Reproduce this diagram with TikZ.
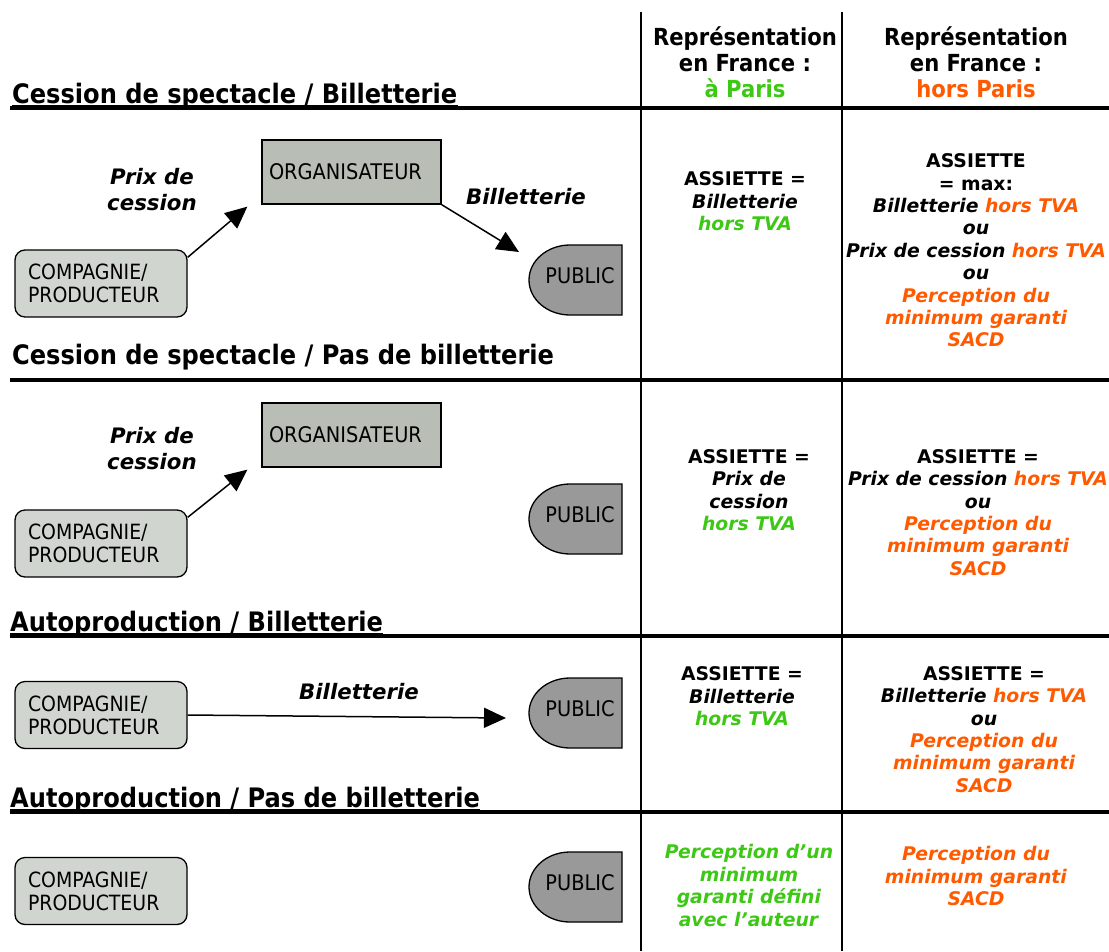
\documentclass[tikz,border=0pt]{standalone}
\usepackage{fontspec}
\setmainfont{DejaVu Sans}
\newfontfamily\cond{DejaVu Sans Condensed}
\usetikzlibrary{arrows.meta,calc}
\definecolor{vert}{RGB}{60,200,20}
\definecolor{orng}{RGB}{255,90,0}
\definecolor{orgfill}{RGB}{184,189,181}
\definecolor{compfill}{RGB}{208,213,207}
\definecolor{pubfill}{RGB}{153,153,153}
\begin{document}
\begin{tikzpicture}[x=1pt,y=-1pt,
  sepline/.style={line width=3.5pt},
  vline/.style={line width=1.5pt},
  uline/.style={line width=2pt},
  title/.style={anchor=base west,inner sep=0pt,font=\cond\bfseries\fontsize{26.8}{30}\selectfont},
  head/.style={align=center,inner sep=0pt,font=\cond\bfseries\fontsize{23.5}{26}\selectfont},
  cell/.style={align=center,inner sep=0pt,font=\bfseries\fontsize{18.8}{22.4}\selectfont},
  lbl/.style={align=center,inner sep=0pt,font=\bfseries\itshape\fontsize{21.3}{26}\selectfont},
  orgbox/.style={draw,line width=1.3pt,fill=orgfill,text width=165pt,inner xsep=7pt,inner ysep=0pt,minimum height=64pt,align=left,font=\cond\fontsize{21.5}{24}\selectfont},
  compbox/.style={draw,line width=1.3pt,fill=compfill,rounded corners=10pt,text width=146pt,inner xsep=13pt,inner ysep=0pt,minimum height=67pt,align=left,font=\cond\fontsize{21}{23}\selectfont},
  pubshape/.style={draw,line width=1.3pt,fill=pubfill},
  pubtext/.style={inner sep=0pt,font=\cond\fontsize{21.5}{24}\selectfont},
  arr/.style={line width=1.5pt,-{Triangle[length=22pt,width=20pt]}}
]
\useasboundingbox (0,0) rectangle (1109,951);

% grid lines
\draw[vline] (641,12) -- (641,951);
\draw[vline] (842,12) -- (842,951);
\draw[sepline] (10,108) -- (1109,108);
\draw[sepline] (10,380) -- (1109,380);
\draw[sepline] (10,636) -- (1109,636);
\draw[sepline] (10,812) -- (1109,812);

% titles
\node[title] (t1) at (12,103) {Cession de spectacle / Billetterie};
\node[title] (t2) at (12,364) {Cession de spectacle / Pas de billetterie};
\node[title] (t3) at (10,631) {Autoproduction / Billetterie};
\node[title] (t4) at (10,807) {Autoproduction / Pas de billetterie};
\foreach \t in {t1,t3,t4}{\draw[uline] ([yshift=-3pt]\t.base west) -- ([yshift=-3pt]\t.base east);}

% headers
\node[head] (h1) at (745,62) {Représentation\\en France :\\\textcolor{vert}{à Paris}};
\node[head] (h2) at (976,62) {Représentation\\en France :\\\textcolor{orng}{hors Paris}};

% public shapes
\foreach \n/\a/\b in {p1/245/315, p2/484/554, p3/678/748, p4/852/922}{
  \draw[pubshape] (622,\a) -- (570,\a) arc[start angle=90,end angle=270,x radius=41pt,y radius=35pt] -- (622,\b) -- cycle;
  \node[pubtext] (\n) at (580,{(\a+\b)/2-4}) {PUBLIC};
}

% section 1
\node[orgbox] (o1) at (351.5,172) {ORGANISATEUR};
\node[compbox] (c1) at (101,283.5) {COMPAGNIE/\\PRODUCTEUR};
\node[lbl] (l1) at (152,190) {Prix de\\cession};
\node[lbl] (l2) at (526,197) {Billetterie};
\coordinate (o1in) at ([xshift=-14pt,yshift=-2pt]o1.south west);
\coordinate (p1in) at (519,252);
\draw[arr] ([yshift=-8pt]c1.north east) -- (o1in);
\draw[arr] (o1.south east) -- (p1in);

% section 2
\node[orgbox] (o2) at (351.5,435) {ORGANISATEUR};
\node[compbox] (c2) at (101,543.5) {COMPAGNIE/\\PRODUCTEUR};
\node[lbl] (l3) at (152,449) {Prix de\\cession};
\coordinate (o2in) at ([xshift=-14pt,yshift=-2pt]o2.south west);
\draw[arr] ([yshift=-8pt]c2.north east) -- (o2in);

% section 3
\node[compbox] (c3) at (101,715) {COMPAGNIE/\\PRODUCTEUR};
\node[lbl] (l4) at (359,692) {Billetterie};
\coordinate (p3in) at (506,718);
\draw[arr] (c3.east) -- (p3in);

% section 4
\node[compbox] (c4) at (101,891) {COMPAGNIE/\\PRODUCTEUR};

% cells
\node[cell] (a1) at (745,201.5) {ASSIETTE =\\\textit{Billetterie}\\\textit{\textcolor{vert}{hors TVA}}};
\node[cell] (b1) at (976,250.5) {ASSIETTE\\= max:\\\textit{Billetterie \textcolor{orng}{hors TVA}}\\\textit{ou}\\\textit{Prix de cession \textcolor{orng}{hors TVA}}\\\textit{ou}\\\textit{\textcolor{orng}{Perception du}}\\\textit{\textcolor{orng}{minimum garanti}}\\\textit{\textcolor{orng}{SACD}}};
\node[cell] (a2) at (749,490) {ASSIETTE =\\\textit{Prix de}\\\textit{cession}\\\textit{\textcolor{vert}{hors TVA}}};
\node[cell] (b2) at (978,512.5) {ASSIETTE =\\\textit{Prix de cession \textcolor{orng}{hors TVA}}\\\textit{ou}\\\textit{\textcolor{orng}{Perception du}}\\\textit{\textcolor{orng}{minimum garanti}}\\\textit{\textcolor{orng}{SACD}}};
\node[cell] (a3) at (742,696.5) {ASSIETTE =\\\textit{Billetterie}\\\textit{\textcolor{vert}{hors TVA}}};
\node[cell] (b3) at (984,729.5) {ASSIETTE =\\\textit{Billetterie \textcolor{orng}{hors TVA}}\\\textit{ou}\\\textit{\textcolor{orng}{Perception du}}\\\textit{\textcolor{orng}{minimum garanti}}\\\textit{\textcolor{orng}{SACD}}};
\node[cell,text=vert] (a4) at (749,885.5) {\textit{Perception d’un}\\\textit{minimum}\\\textit{garanti défini}\\\textit{avec l’auteur}};
\node[cell,text=orng] (b4) at (976,876) {\textit{Perception du}\\\textit{minimum garanti}\\\textit{SACD}};
\end{tikzpicture}
\end{document}
